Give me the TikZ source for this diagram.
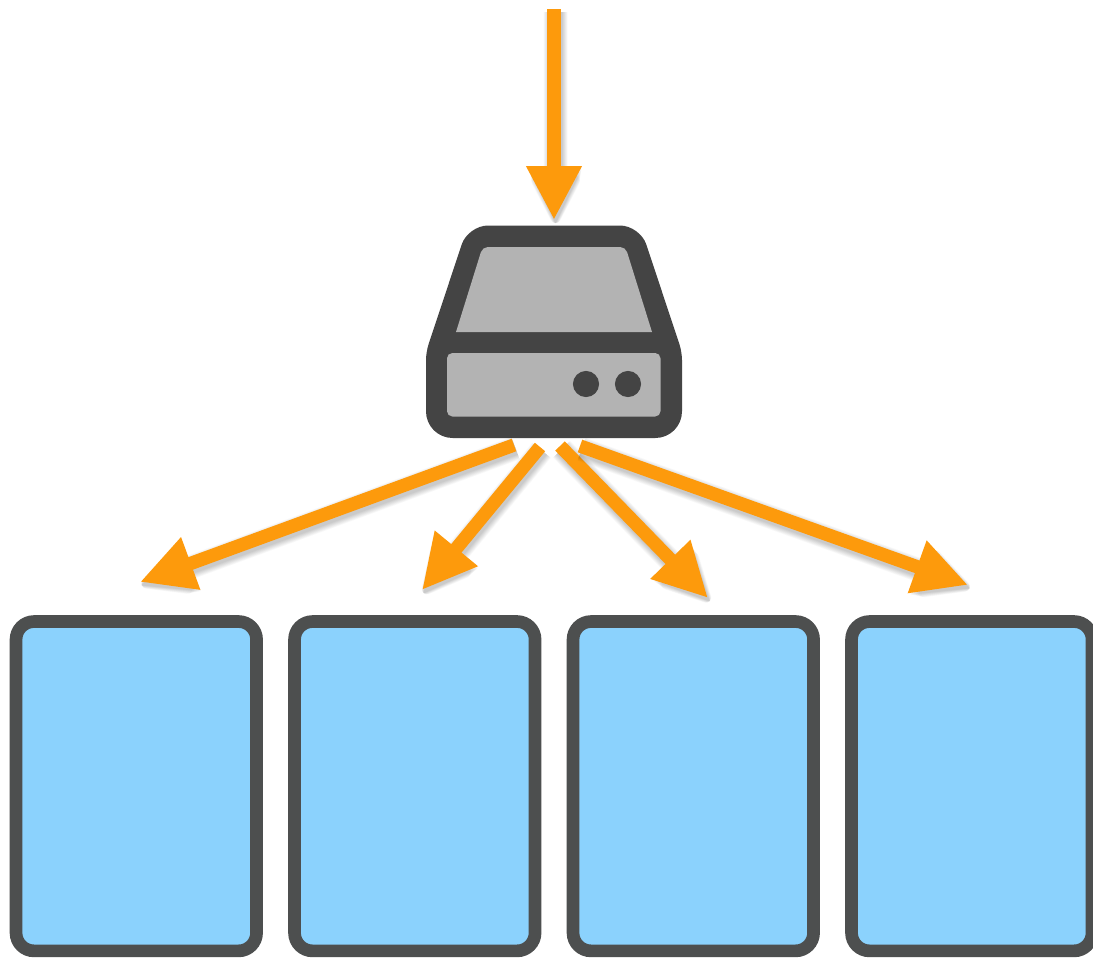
\documentclass[tikz,border=0pt]{standalone}
\usetikzlibrary{arrows.meta}
\definecolor{flow}{HTML}{FD9A0C}
\definecolor{diskdark}{HTML}{444444}
\definecolor{diskgray}{HTML}{B3B3B3}
\definecolor{cellblue}{HTML}{8BD2FD}
\definecolor{celledge}{HTML}{4D4F4F}
\tikzset{
  x=0.75pt,y=-0.75pt,
  cellbox/.style={draw=celledge,fill=cellblue,line width=9.5pt,rounded corners=13.5pt,
    minimum width=180.4pt,minimum height=247pt,inner sep=0pt,outer sep=0pt},
  flowline/.style={draw=flow,line width=10pt,line cap=butt,
    -{Triangle[length=40.5pt,width=39pt,color=flow]}},
}
% layered soft shadow followed by the connector itself
\newcommand{\flowarrow}[2]{%
  \foreach \g in {8,7,6,5,4,3,2,1,0}{%
    \begin{scope}[transparency group,opacity=0.022,transform canvas={shift={(1.2pt,-2.4pt)}}]
      \draw[draw=black,line width=10pt+\g pt,line cap=butt,
        -{Triangle[round,length=40.5pt,width=39pt,line width=\g pt,fill=black,color=black]}] (#1) -- (#2);
    \end{scope}}%
  \draw[flowline] (#1) -- (#2);}
\begin{document}
\begin{tikzpicture}
\fill[white] (0,0) rectangle (1093,958);
\clip (0,0) rectangle (1093,958);
\useasboundingbox (0,0) rectangle (1093,958);

% arrow end points
\coordinate (inTail) at (554,9);
\coordinate (inTip) at (554,220);
\coordinate (aTail) at (514,445);
\coordinate (aTip) at (140,582);
\coordinate (bTail) at (540,447);
\coordinate (bTip) at (422,590);
\coordinate (cTail) at (560,446);
\coordinate (cTip) at (708,598);
\coordinate (dTail) at (580,446);
\coordinate (dTip) at (968,585);

% four cells
\node[cellbox] (cellA) at (136.3,786.2) {};
\node[cellbox] (cellB) at (414.8,786.2) {};
\node[cellbox] (cellC) at (693.3,786.2) {};
\node[cellbox] (cellD) at (971.8,786.2) {};

% disk
\fill[diskdark]
  [rounded corners=15pt] (468,225.5) -- (640,225.5)
  [rounded corners=6pt] -- (682,352)
  [rounded corners=20pt] -- (682,438) -- (426,438)
  [rounded corners=6pt] -- (426,352)
  [rounded corners=15pt] -- cycle;
\fill[diskgray]
  [rounded corners=4pt] (482.5,247) -- (625.5,247)
  [rounded corners=0pt] -- (652,332) -- (456,332)
  [rounded corners=4pt] -- cycle;
\fill[diskgray,rounded corners=4pt] (447,353) rectangle (660.5,416.5);
\fill[diskdark] (586,384) circle[radius=9.8pt];
\fill[diskdark] (628,384) circle[radius=9.8pt];

% connectors
\flowarrow{inTail}{inTip}
\flowarrow{aTail}{aTip}
\flowarrow{bTail}{bTip}
\flowarrow{cTail}{cTip}
\flowarrow{dTail}{dTip}
\end{tikzpicture}
\end{document}
